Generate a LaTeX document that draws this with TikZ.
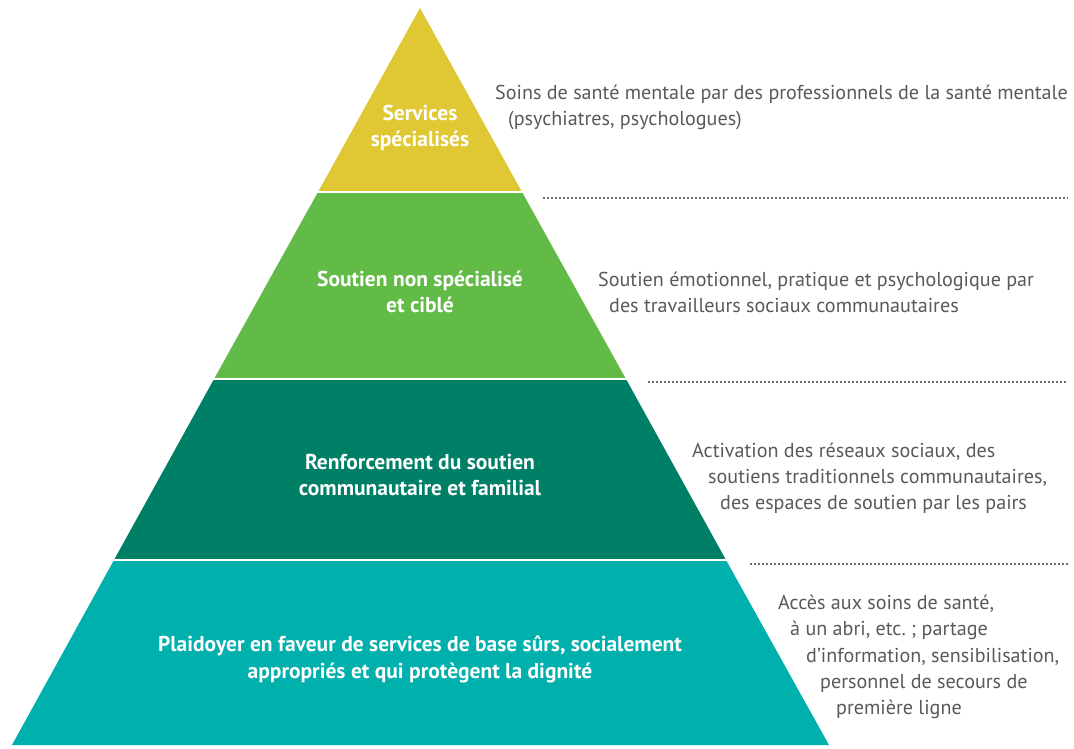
\documentclass[tikz,border=0pt]{standalone}
\usepackage{fontspec}
\setmainfont{PT Sans}
\frenchspacing
\definecolor{topyellow}{RGB}{224,200,52}
\definecolor{lightgreen}{RGB}{98,187,70}
\definecolor{darkgreen}{RGB}{0,127,103}
\definecolor{baseteal}{RGB}{0,176,173}
\definecolor{notegray}{RGB}{88,89,91}
\definecolor{dotgray}{RGB}{110,110,112}

\begin{document}
\begin{tikzpicture}[x=1pt, y=-1pt,
    band label/.style={text=white, font=\bfseries\fontsize{21.5}{25}\selectfont, anchor=base, inner sep=0pt},
    note/.style={text=notegray, font=\fontsize{20.1}{24}\selectfont, anchor=base west, inner sep=0pt},
    gap/.style={white, line width=2.5pt},
    sep line/.style={dotgray, line width=1.5pt, dash pattern=on 1.5pt off 2.5pt},
    ]
  \useasboundingbox (0,0) rectangle (1074,748);

  % pyramid bands
  \coordinate (top) at (420,8);
  \coordinate (l1) at (318,192); \coordinate (r1) at (522,192);
  \coordinate (l2) at (214,379); \coordinate (r2) at (626,379);
  \coordinate (l3) at (114,560); \coordinate (r3) at (726,560);
  \coordinate (l4) at (12,745);  \coordinate (r4) at (829,745);

  \fill[topyellow] (top) -- (r1) -- (l1) -- cycle;
  \fill[lightgreen] (l1) -- (r1) -- (r2) -- (l2) -- cycle;
  \fill[darkgreen] (l2) -- (r2) -- (r3) -- (l3) -- cycle;
  \fill[baseteal] (l3) -- (r3) -- (r4) -- (l4) -- cycle;

  \draw[gap] ([xshift=-3pt]l1) -- ([xshift=3pt]r1);
  \draw[gap] ([xshift=-3pt]l2) -- ([xshift=3pt]r2);
  \draw[gap] ([xshift=-3pt]l3) -- ([xshift=3pt]r3);

  \node[band label] (b1) at (420,120) {Services};
  \node[band label] (b2) at (420,146) {spécialisés};
  \node[band label] (b3) at (420,286) {Soutien non spécialisé};
  \node[band label] (b4) at (420,312) {et ciblé};
  \node[band label] (b5) at (420,469) {Renforcement du soutien};
  \node[band label] (b6) at (420,495) {communautaire et familial};
  \node[band label] (b7) at (420,651) {Plaidoyer en faveur de services de base sûrs, socialement};
  \node[band label] (b8) at (420,678) {appropriés et qui protègent la dignité};

  \node[note] (n1) at (495,99) {Soins de santé mentale par des professionnels de la santé mentale};
  \node[note] (n2) at (508,125) {(psychiatres, psychologues)};
  \node[note] (n3) at (598,286) {Soutien émotionnel, pratique et psychologique par};
  \node[note] (n4) at (609,312) {des travailleurs sociaux communautaires};
  \node[note] (n5) at (692,457) {Activation des réseaux sociaux, des};
  \node[note] (n6) at (708,483) {soutiens traditionnels communautaires,};
  \node[note] (n7) at (720,509) {des espaces de soutien par les pairs};
  \node[note] (n8) at (778,609) {Accès aux soins de santé,};
  \node[note] (n9) at (790,635) {à un abri, etc. ; partage};
  \node[note] (n10) at (806,662) {d’information, sensibilisation,};
  \node[note] (n11) at (820,688) {personnel de secours de};
  \node[note] (n12) at (836,714) {première ligne};

  \coordinate (d1a) at (543,198); \coordinate (d1b) at (1068,198);
  \coordinate (d2a) at (648,382); \coordinate (d2b) at (1068,382);
  \coordinate (d3a) at (750,564); \coordinate (d3b) at (1068,564);
  \draw[sep line] (d1a) -- (d1b);
  \draw[sep line] (d2a) -- (d2b);
  \draw[sep line] (d3a) -- (d3b);
\end{tikzpicture}
\end{document}
